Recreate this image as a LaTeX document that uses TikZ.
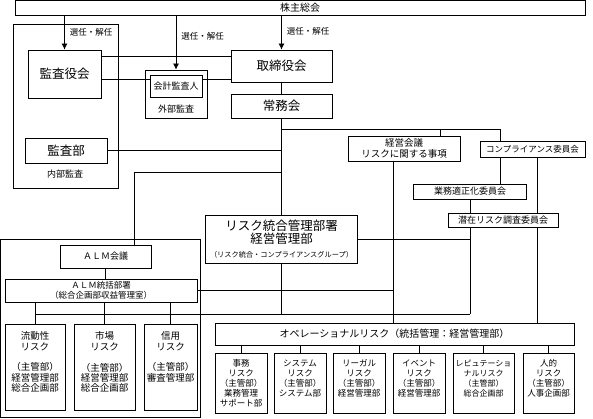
\documentclass[tikz,border=0pt]{standalone}
\usepackage{fontspec}
\setmainfont{Noto Sans CJK JP}
\usetikzlibrary{arrows.meta}

\begin{document}
\begin{tikzpicture}[x=1pt,y=-1pt,line width=0.8pt]
        \tikzstyle{orgbox}=[
            draw=black,
            inner sep=0pt,
            align=center
        ]
        \tikzstyle{groupbox}=[
            draw=black,
            inner sep=0pt
        ]
        \tikzstyle{riskbox}=[
            orgbox,
            font=\fontsize{9.5}{10.4}\selectfont
        ]
        \tikzstyle{oprisk}=[
            orgbox,
            minimum height=60,
            font=\fontsize{8.5}{10}\selectfont
        ]
        \tikzstyle{note}=[
            inner sep=0pt,
            font=\fontsize{8.5}{10}\selectfont
        ]

        \useasboundingbox (0,0) rectangle (593,419);

        % groups
        \node[groupbox, minimum width=105, minimum height=164] (naibu) at (65.5,106) {};
        \node[note, font=\fontsize{9}{10}\selectfont] (naibulbl) at (65,174) {内部監査};
        \node[groupbox, minimum width=62, minimum height=48] (gaibu) at (176,94) {};
        \node[note, font=\fontsize{9}{10}\selectfont] (gaibulbl) at (176,109) {外部監査};
        \node[groupbox, minimum width=199.5, minimum height=178.5] (almg) at (100.25,328.25) {};

        % top
        \node[orgbox, minimum width=570, minimum height=15, font=\fontsize{10}{11}\selectfont] (sh) at (300,8) {株主総会};
        \node[orgbox, minimum width=73, minimum height=48, font=\fontsize{12.5}{13}\selectfont] (kansa) at (64.5,74) {監査役会};
        \node[orgbox, minimum width=82, minimum height=25, font=\fontsize{12.5}{13}\selectfont] (kansabu) at (66,150.5) {監査部};
        \node[orgbox, minimum width=52, minimum height=22, font=\fontsize{9}{10}\selectfont] (kaikei) at (176,86) {会計監査人};
        \node[orgbox, minimum width=101, minimum height=32, font=\fontsize{12.5}{13}\selectfont] (torishimari) at (281.5,66) {取締役会};
        \node[orgbox, minimum width=101, minimum height=24, font=\fontsize{12.5}{13}\selectfont] (jomu) at (281.5,106) {常務会};

        % committees
        \node[orgbox, minimum width=112, minimum height=25, font=\fontsize{9.5}{10.5}\selectfont] (keiei) at (404,148.5) {経営会議\\リスクに関する事項};
        \node[orgbox, minimum width=105, minimum height=16, font=\fontsize{8.5}{10}\selectfont] (comp) at (532.5,149) {コンプライアンス委員会};
        \node[orgbox, minimum width=113, minimum height=15, font=\fontsize{9}{10}\selectfont] (gyomu) at (470,191.5) {業務適正化委員会};
        \node[orgbox, minimum width=110, minimum height=14, font=\fontsize{9}{10}\selectfont] (senzai) at (503,220) {潜在リスク調査委員会};
        \node[orgbox, minimum width=152, minimum height=48, font=\fontsize{12.5}{13.5}\selectfont] (risk) at (281.5,239) {リスク統合管理部署\\経営管理部\\{\fontsize{7.2}{9}\selectfont （リスク統合・コンプライアンスグループ）}};

        % ALM
        \node[orgbox, minimum width=91, minimum height=23, font=\fontsize{9}{10}\selectfont] (almk) at (105.5,256.5) {ＡＬＭ会議};
        \node[orgbox, minimum width=192, minimum height=23, font=\fontsize{8.5}{10}\selectfont] (almt) at (101,290.5) {ＡＬＭ統括部署\\（総合企画部収益管理室）};
        \node[riskbox, minimum width=60, minimum height=86] (ryudo) at (35,367) {流動性\\リスク\\\mbox{}\\（主管部）\\経営管理部\\総合企画部\\\mbox{}};
        \node[riskbox, minimum width=61, minimum height=86] (shijo) at (104.5,367) {市場\\リスク\\\mbox{}\\（主管部）\\経営管理部\\総合企画部\\\mbox{}};
        \node[riskbox, minimum width=53, minimum height=86] (shinyo) at (170.5,367) {信用\\リスク\\\mbox{}\\（主管部）\\審査管理部\\\mbox{}\\\mbox{}};

        % operational risk
        \node[orgbox, minimum width=359, minimum height=22, font=\fontsize{10}{11}\selectfont] (ope) at (394.5,334) {オペレーショナルリスク（統括管理：経営管理部）};
        \node[oprisk, minimum width=52] (jimu) at (241,383) {事務\\リスク\\（主管部）\\業務管理\\サポート部};
        \node[oprisk, minimum width=52] (system) at (300,383) {システム\\リスク\\（主管部）\\システム部\\\mbox{}};
        \node[oprisk, minimum width=52] (legal) at (359,383) {リーガル\\リスク\\（主管部）\\経営管理部\\\mbox{}};
        \node[oprisk, minimum width=52] (event) at (419,383) {イベント\\リスク\\（主管部）\\経営管理部\\\mbox{}};
        \node[oprisk, minimum width=61, font=\fontsize{8}{10}\selectfont] (reput) at (483.5,383) {レピュテーショ\\ナルリスク\\（主管部）\\総合企画部\\\mbox{}};
        \node[oprisk, minimum width=51] (jinteki) at (548.5,383) {人的\\リスク\\（主管部）\\人事企画部\\\mbox{}};

        \coordinate (kd) at (393,0);
        \coordinate (kb) at (440,129);
        \coordinate (cb) at (500,129);
        \coordinate (cr) at (537,0);
        \coordinate (k79) at (0,79);
        \coordinate (a172) at (134,172);
        \coordinate (bus) at (0,314);

        \draw[-{Latex[length=6pt,width=6pt]}] (kansa.north |- sh.south) -- node[note, right, xshift=5pt, pos=0.5]{選任・解任} (kansa.north);
        \draw[-{Latex[length=6pt,width=6pt]}] (gaibu.north |- sh.south) -- node[note, right, xshift=5pt, pos=0.38]{選任・解任} (gaibu.north);
        \draw[-{Latex[length=6pt,width=6pt]}] (torishimari.north |- sh.south) -- node[note, right, xshift=5pt, pos=0.45]{選任・解任} (torishimari.north);

        \draw ([yshift=-7pt]kansa.north east) -- ([yshift=-7pt]torishimari.north west);
        \draw (kansa.east |- k79) -- (kaikei.west |- k79);
        \draw (kaikei.east |- k79) -- (torishimari.west |- k79);
        \draw (torishimari.south) -- (jomu.north);
        \draw (jomu.south) -- (risk.north);
        \draw (jomu.south |- cb) -- (cb) -- (cb |- comp.north);
        \draw (kb) -- (kb |- keiei.north);
        \draw (kansabu.east) -- (kansabu.east -| jomu.south);
        \draw (a172 -| jomu.south) -- (a172) -- (a172 |- almk.north);
        \draw (almk.south) -- (almk.south |- almt.north);
        \draw (almt.east) -- (almt.east -| kd);
        \draw (kd |- keiei.south) -- (kd |- ope.north);
        \draw (risk.east) -- (risk.east -| gyomu.south);
        \draw (gyomu.south) -- (gyomu.south |- senzai.north);
        \draw (gyomu.south |- senzai.south) -- (gyomu.south |- bus);
        \draw (cb |- comp.south) -- (cb |- gyomu.north);
        \draw (cr |- comp.south) -- (cr |- senzai.north);
        \draw (cr |- senzai.south) -- (cr |- ope.north);
        \draw (ryudo.north |- bus) -- (gyomu.south |- bus);
        \draw (risk.south) -- (risk.south |- bus);
        \foreach \n in {ryudo,shijo,shinyo}
            \draw (\n.north |- almt.south) -- (\n.north);
        \foreach \n in {jimu,system,legal,event,reput,jinteki}
            \draw (\n.north |- ope.south) -- (\n.north);

    \end{tikzpicture}
\end{document}
